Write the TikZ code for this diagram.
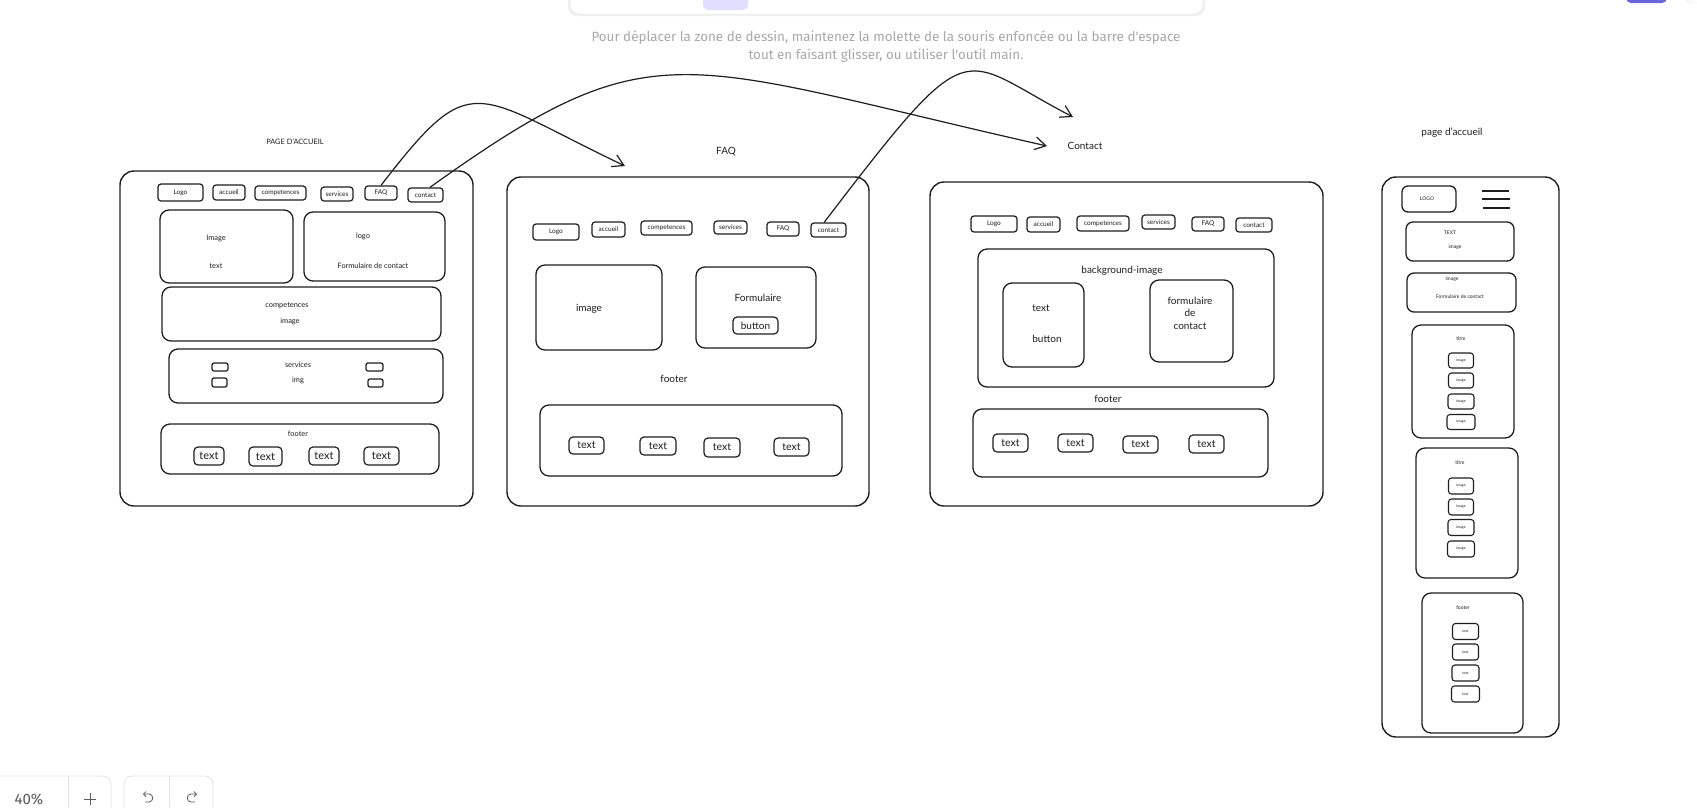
\documentclass[tikz,border=0pt]{standalone}
\usepackage{fontspec}
\setmainfont{Lato}
\newfontfamily\uifont{Fira Sans}
\usepackage{tikz}
\usetikzlibrary{arrows.meta,calc}
\definecolor{ink}{HTML}{1E1E1E}
\definecolor{hintgray}{HTML}{A8A8A8}
\definecolor{uiline}{HTML}{E2E2E2}
\definecolor{uitext}{HTML}{5A5A5A}
\definecolor{accent}{HTML}{6965DB}
\definecolor{accentsoft}{HTML}{E0DFFF}
\tikzset{
  frame/.style={draw=ink, line width=1.4pt, rounded corners=14pt, inner sep=0pt},
  block/.style={draw=ink, line width=1.3pt, rounded corners=9pt, inner sep=0pt},
  navbtn/.style={draw=ink, text=ink, line width=1.2pt, rounded corners=3pt, inner sep=0pt, font=\fontsize{6.5}{7}\selectfont},
  txtbtn/.style={draw=ink, text=ink, line width=1.2pt, rounded corners=4pt, inner sep=0pt, font=\fontsize{10.5}{12}\selectfont},
  minibtn/.style={draw=ink, text=ink, line width=1.1pt, rounded corners=3pt, inner sep=0pt, font=\fontsize{3.6}{4}\selectfont},
  lbl/.style={text=ink, inner sep=0pt, font=\fontsize{10}{12.5}\selectfont},
  smalllbl/.style={text=ink, inner sep=0pt, font=\fontsize{7.4}{8}\selectfont},
  tinylbl/.style={text=ink, inner sep=0pt, font=\fontsize{5}{5.5}\selectfont},
  link/.style={draw=ink, line width=1.2pt, -{Straight Barb[length=11pt,width=13pt]}},
}
\begin{document}
\begin{tikzpicture}[x=1pt, y=-1pt]
        \useasboundingbox (0,0) rectangle (1697,807);
        \fill[white] (0,0) rectangle (1697,807);

        % editor toolbar and hint
        \fill[black!6, rounded corners=9pt] (568,-10) rectangle (1205,16);
        \draw[uiline, fill=white, rounded corners=9pt] (570,-10) rectangle (1203,14);
        \fill[accentsoft, rounded corners=5pt] (703,-8) rectangle (748,10);
        \fill[accent, rounded corners=5pt] (1626,-8) rectangle (1667,3);
        \draw[uiline, rounded corners=5pt] (1686,-8) rectangle (1730,3);
        \node[text=hintgray, font=\uifont\fontsize{13.4}{18}\selectfont, align=center] (hint) at (886,47)
            {Pour déplacer la zone de dessin, maintenez la molette de la souris enfoncée ou la barre d'espace\\
             tout en faisant glisser, ou utiliser l'outil main.};

        % zoom and undo controls
        \draw[uiline, line width=0.8pt, rounded corners=8pt] (-10,776) rectangle (111,830);
        \draw[uiline, line width=0.8pt] (68,776) -- (68,807);
        \draw[uiline, line width=0.8pt, rounded corners=8pt] (124,776) rectangle (213,830);
        \draw[uiline, line width=0.8pt] (169,776) -- (169,807);
        \node[text=uitext, font=\uifont\fontsize{15}{16}\selectfont] (zoomlevel) at (29,799) {40\%};
        \draw[uitext, line width=0.9pt] (84,799) -- (96,799);
        \draw[uitext, line width=0.9pt] (90,793) -- (90,805);
        \draw[uitext, line width=0.8pt, {Straight Barb[length=2.5pt,width=5pt]}-] (143,794) -- (149,794) .. controls (154,794) and (154,802) .. (149,802) -- (145,802);
        \draw[uitext, line width=0.8pt, {Straight Barb[length=2.5pt,width=5pt]}-] (197,794) -- (191,794) .. controls (186,794) and (186,802) .. (191,802) -- (195,802);

        % page d'accueil (desktop)
        \node[smalllbl] (title1) at (295,142) {PAGE D'ACCUEIL};
        \node[frame, minimum width=353pt, minimum height=335pt] (page1) at (296.5,338.5) {};
        \node[navbtn, minimum width=45pt, minimum height=17pt] (p1logo) at (180.5,192.5) {Logo};
        \node[navbtn, minimum width=32pt, minimum height=15pt] (p1accueil) at (229,192.5) {accueil};
        \node[navbtn, minimum width=51pt, minimum height=14pt] (p1comp) at (280.5,193) {competences};
        \node[navbtn, minimum width=32pt, minimum height=14pt] (p1serv) at (337,194) {services};
        \node[navbtn, minimum width=32pt, minimum height=14pt] (p1faq) at (381,193) {FAQ};
        \node[navbtn, minimum width=35pt, minimum height=14pt] (p1contact) at (425.5,195) {contact};
        \node[block, minimum width=133pt, minimum height=73pt] (p1hero) at (226.5,246.5) {};
        \node[smalllbl] (p1heroimg) at (216,239) {Image};
        \node[smalllbl] (p1herotxt) at (216,266) {text};
        \node[block, minimum width=141pt, minimum height=69pt] (p1form) at (374.5,246.5) {};
        \node[smalllbl] (p1formlogo) at (363,236) {logo};
        \node[smalllbl] (p1formtxt) at (373,266) {Formulaire de contact};
        \node[block, minimum width=279pt, minimum height=54pt] (p1skills) at (301.5,314) {};
        \node[smalllbl] (p1skillstxt) at (287,306) {competences};
        \node[smalllbl] (p1skillsimg) at (290,321) {image};
        \node[block, minimum width=274pt, minimum height=54pt] (p1services) at (306,376) {};
        \node[smalllbl] (p1servtxt) at (298,365) {services};
        \node[smalllbl] (p1servimg) at (298,380) {img};
        \node[navbtn, rounded corners=2pt, minimum width=16pt, minimum height=8pt] (p1s1) at (220,367) {};
        \node[navbtn, rounded corners=2pt, minimum width=15pt, minimum height=9pt] (p1s2) at (219.5,382.5) {};
        \node[navbtn, rounded corners=2pt, minimum width=17pt, minimum height=8pt] (p1s3) at (374.5,367) {};
        \node[navbtn, rounded corners=2pt, minimum width=15pt, minimum height=8pt] (p1s4) at (375.5,383) {};
        \node[block, minimum width=278pt, minimum height=50pt] (p1footer) at (300,449) {};
        \node[smalllbl] (p1footertxt) at (298,434) {footer};
        \node[txtbtn, minimum width=30pt, minimum height=18pt, font=\fontsize{11}{12}\selectfont] (p1t1) at (209,456) {text};
        \node[txtbtn, minimum width=33pt, minimum height=19pt, font=\fontsize{11}{12}\selectfont] (p1t2) at (265.5,456.5) {text};
        \node[txtbtn, minimum width=30pt, minimum height=18pt, font=\fontsize{11}{12}\selectfont] (p1t3) at (324,456) {text};
        \node[txtbtn, minimum width=35pt, minimum height=18pt, font=\fontsize{11}{12}\selectfont] (p1t4) at (381.5,456) {text};

        % FAQ
        \node[lbl] (title2) at (726,152) {FAQ};
        \node[frame, minimum width=362pt, minimum height=329pt] (page2) at (688,341.5) {};
        \node[navbtn, minimum width=46pt, minimum height=16pt] (p2logo) at (556,232) {Logo};
        \node[navbtn, minimum width=33pt, minimum height=15pt] (p2accueil) at (608.5,229.5) {accueil};
        \node[navbtn, minimum width=51pt, minimum height=14pt] (p2comp) at (666.5,228) {competences};
        \node[navbtn, minimum width=33pt, minimum height=13pt] (p2serv) at (730.5,227.5) {services};
        \node[navbtn, minimum width=32pt, minimum height=14pt] (p2faq) at (783,229) {FAQ};
        \node[navbtn, minimum width=35pt, minimum height=14pt] (p2contact) at (828.5,230) {contact};
        \node[block, minimum width=126pt, minimum height=85pt] (p2image) at (599,307.5) {};
        \node[lbl] (p2imagetxt) at (589,309) {image};
        \node[block, minimum width=120pt, minimum height=81pt] (p2form) at (756,307.5) {};
        \node[lbl] (p2formtxt) at (758,298) {Formulaire};
        \node[txtbtn, minimum width=45pt, minimum height=17pt, font=\fontsize{10}{12}\selectfont] (p2button) at (755.5,325.5) {button};
        \node[lbl] (p2footertxt) at (674,379) {footer};
        \node[block, minimum width=302pt, minimum height=71pt] (p2footer) at (691,440.5) {};
        \node[txtbtn, minimum width=35pt, minimum height=17pt] (p2t1) at (586.5,445.5) {text};
        \node[txtbtn, minimum width=36pt, minimum height=18pt] (p2t2) at (658,446) {text};
        \node[txtbtn, minimum width=36pt, minimum height=19pt] (p2t3) at (722,447.5) {text};
        \node[txtbtn, minimum width=35pt, minimum height=18pt] (p2t4) at (791.5,447) {text};

        % Contact
        \node[lbl] (title3) at (1085,146) {Contact};
        \node[frame, minimum width=393pt, minimum height=324pt] (page3) at (1126.5,344) {};
        \node[navbtn, minimum width=46pt, minimum height=16pt] (p3logo) at (994,224) {Logo};
        \node[navbtn, minimum width=33pt, minimum height=15pt] (p3accueil) at (1043.5,224.5) {accueil};
        \node[navbtn, minimum width=52pt, minimum height=15pt] (p3comp) at (1103,223.5) {competences};
        \node[navbtn, minimum width=33pt, minimum height=14pt] (p3serv) at (1158.5,222) {services};
        \node[navbtn, minimum width=32pt, minimum height=14pt] (p3faq) at (1208,224) {FAQ};
        \node[navbtn, minimum width=36pt, minimum height=14pt] (p3contact) at (1254,225) {contact};
        \node[block, minimum width=296pt, minimum height=138pt] (p3bg) at (1126,318) {};
        \node[lbl] (p3bgtxt) at (1122,271) {background-image};
        \node[block, minimum width=81pt, minimum height=84pt] (p3hero) at (1043.5,325) {};
        \node[lbl] (p3herotxt) at (1041,308) {text};
        \node[lbl] (p3herobtn) at (1047,339) {button};
        \node[block, minimum width=83pt, minimum height=82pt] (p3form) at (1191.5,321) {};
        \node[lbl, align=center] (p3formtxt) at (1190,313) {formulaire\\de\\contact};
        \node[lbl] (p3footertxt) at (1108,399) {footer};
        \node[block, minimum width=295pt, minimum height=68pt] (p3footer) at (1120.5,443) {};
        \node[txtbtn, minimum width=35pt, minimum height=18pt] (p3t1) at (1010.5,443) {text};
        \node[txtbtn, minimum width=35pt, minimum height=18pt] (p3t2) at (1075.5,443) {text};
        \node[txtbtn, minimum width=35pt, minimum height=17pt] (p3t3) at (1140.5,444.5) {text};
        \node[txtbtn, minimum width=35pt, minimum height=18pt] (p3t4) at (1206.5,444) {text};

        % page d'accueil (mobile)
        \node[lbl] (title4) at (1452,133) {page d'accueil};
        \node[frame, minimum width=177pt, minimum height=560pt] (page4) at (1470.5,457) {};
        \node[block, rounded corners=6pt, minimum width=54pt, minimum height=26pt] (mlogo) at (1429,199) {};
        \node[tinylbl] (mlogotxt) at (1427,199) {LOGO};
        \draw[ink, line width=1.6pt] (1482,191) -- (1509,191);
        \draw[ink, line width=1.6pt] (1482,199) -- (1510,199);
        \draw[ink, line width=1.6pt] (1483,208) -- (1510,208);
        \node[block, rounded corners=7pt, minimum width=108pt, minimum height=39pt] (mhero) at (1460,241.5) {};
        \node[tinylbl] (mherotxt) at (1450,233) {TEXT};
        \node[tinylbl] (mheroimg) at (1455,247) {image};
        \node[block, rounded corners=7pt, minimum width=109pt, minimum height=39pt] (mform) at (1461.5,292.5) {};
        \node[tinylbl] (mformimg) at (1452,279) {image};
        \node[tinylbl] (mformtxt) at (1460,297) {Formulaire de contact};
        \node[block, minimum width=102pt, minimum height=113pt] (mlistA) at (1463,381.5) {};
        \node[tinylbl] (mlistAtxt) at (1461,339) {titre};
        \foreach \y/\w [count=\i] in {360.5/25, 380.5/25, 401.5/26, 422/28}
            \node[minibtn, minimum width=\w pt, minimum height=15pt] (mimgA\i) at (1461,\y) {image};
        \node[block, minimum width=102pt, minimum height=130pt] (mlistB) at (1467,513) {};
        \node[tinylbl] (mlistBtxt) at (1460,463) {titre};
        \foreach \y/\w [count=\i] in {486/25, 507/25, 527.5/26, 549/27}
            \node[minibtn, minimum width=\w pt, minimum height=16pt] (mimgB\i) at (1461,\y) {image};
        \node[block, minimum width=101pt, minimum height=140pt] (mfooter) at (1472.5,663) {};
        \node[tinylbl] (mfootertxt) at (1463,608) {footer};
        \foreach \y/\w [count=\i] in {631.5/26, 652/26, 673/27, 694/28}
            \node[minibtn, minimum width=\w pt, minimum height=16pt] (mtxt\i) at (1465.5,\y) {text};

        % links between the pages
        \coordinate (faqin) at (625,166);
        \coordinate (contactin) at (1047,146);
        \coordinate (contacttop) at (1073,117);
        \draw[link] (p1faq.north) .. controls (473,66) and (472,93) .. (faqin);
        \draw[link] (p1contact.60) .. controls (655,26) and (675,62) .. (contactin);
        \draw[link] (p2contact.120) .. controls (975,25) and (957,57) .. (contacttop);

    \end{tikzpicture}
\end{document}
